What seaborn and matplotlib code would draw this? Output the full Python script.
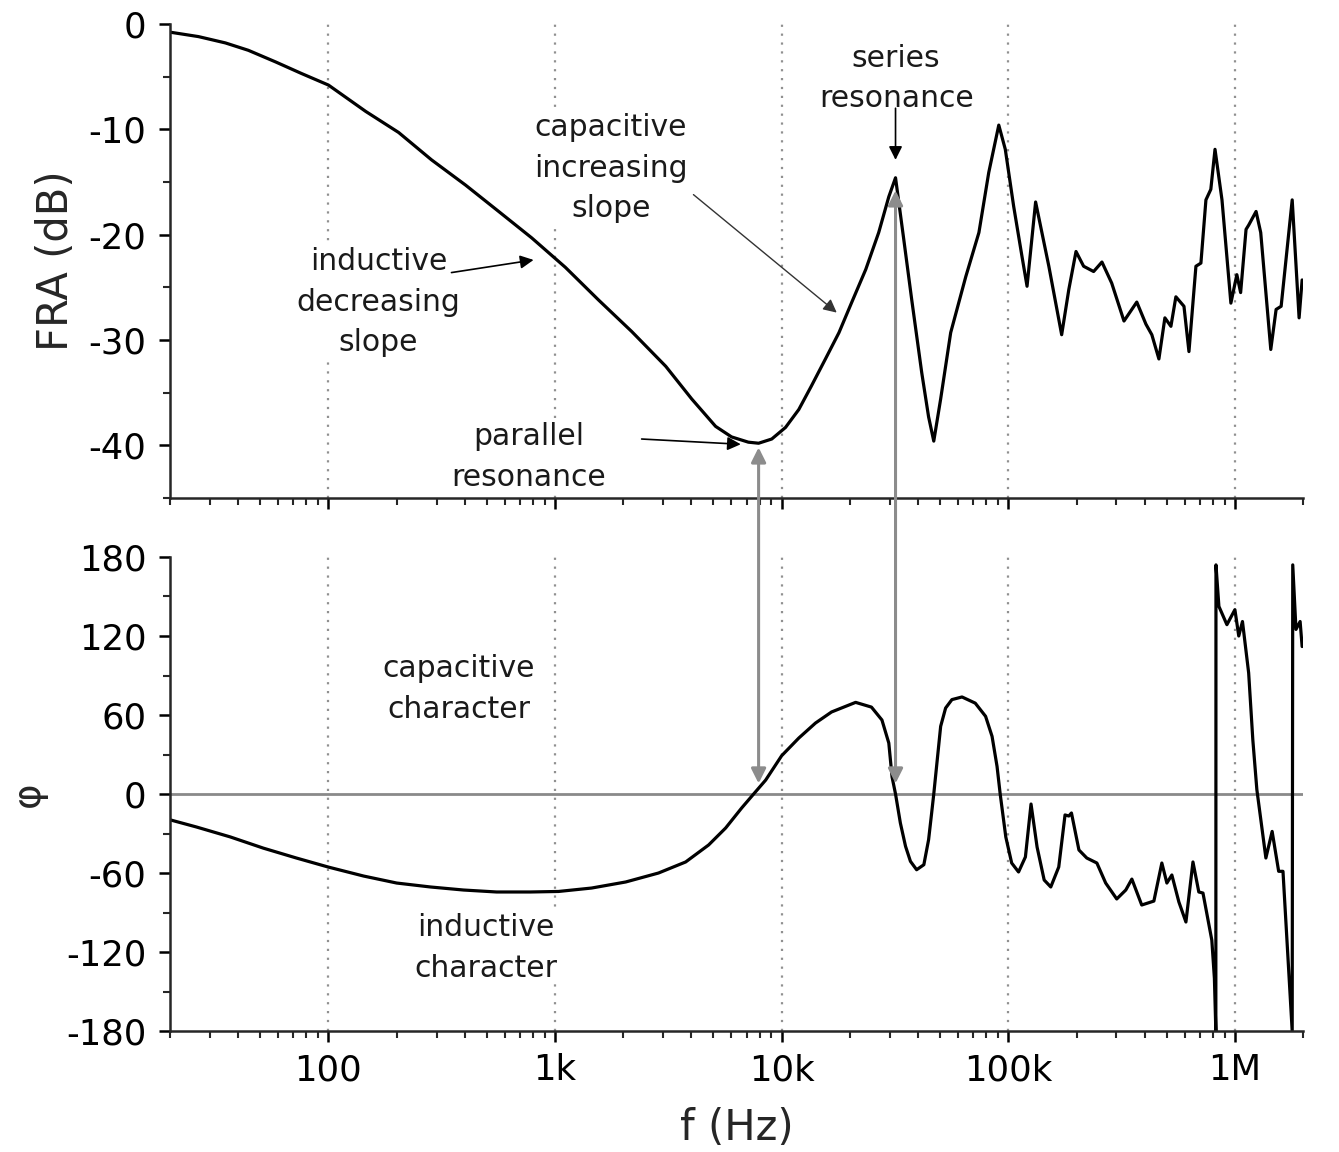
import matplotlib
matplotlib.use('Agg')
import matplotlib.pyplot as plt
import matplotlib.ticker as mticker
from matplotlib.patches import ConnectionPatch
import seaborn as sns

# valores (frequencia em Hz)
fra_freq = [20.3, 26.7, 35.1, 44.3, 58.4, 76, 100, 146, 204, 285, 403, 564, 788, 1110,
            1555, 2180, 3080, 4010, 5110, 6010, 7130, 7910, 9040, 10400, 11900, 13500,
            15600, 17900, 20400, 23500, 26800, 29700, 31800, 34600, 37500, 41500,
            44500, 46900, 50300, 55700, 64900, 74200, 82000, 90800, 97000, 105600,
            115000, 121000, 132000, 151000, 172000, 185000, 199000, 215000,
            238000, 259000, 286000, 324000, 369000, 405000, 430000, 462000, 491000,
            522000, 549000, 596000, 627000, 673000, 708000, 745000, 783000, 817000,
            877000, 960000, 1020000, 1060000, 1120000, 1150000, 1240000, 1300000,
            1440000, 1520000, 1600000, 1790000, 1920000, 1980000]
fra_db = [-0.8, -1.2, -1.8, -2.5, -3.6, -4.7, -5.8, -8.3, -10.3, -12.9, -15.3, -17.8, -20.3, -23.1,
          -26.2, -29.2, -32.5, -35.6, -38.2, -39.2, -39.7, -39.8, -39.4, -38.3, -36.6, -34.4,
          -31.8, -29.3, -26.4, -23.3, -19.8, -16.4, -14.6, -20.5, -26.2, -33.1,
          -37.3, -39.6, -35.6, -29.3, -24.0, -19.8, -14.1, -9.6, -11.9, -17.3,
          -22.1, -24.9, -16.9, -23.0, -29.5, -25.2, -21.6, -23.0,
          -23.5, -22.6, -24.6, -28.2, -26.4, -28.5, -29.5, -31.8, -27.9,
          -28.7, -25.9, -26.8, -31.1, -23.0, -22.7, -16.7, -15.7, -11.9,
          -16.7, -26.5, -23.8, -25.5, -19.5, -19.1, -17.8, -19.8,
          -30.9, -27.1, -26.8, -16.7, -27.9, -24.3]

phase_freq = [20.1, 26.1, 36.9, 51.6, 72.2, 100, 143, 200, 282, 394, 552, 779, 1036,
              1450, 2050, 2860, 3770, 4760, 5660, 6660, 7520, 8500, 10000, 11900,
              14100, 16600, 21200, 24900, 27700, 29700, 30700, 31800, 33400, 35200,
              37000, 39400, 42400, 44500, 45900, 46900, 50300, 52900, 56400, 62500,
              71500, 79400, 84800, 89200, 92100, 97500, 103500, 111000, 119000,
              126000, 134000, 144000, 154000, 167000, 178000, 185000, 190000, 205000,
              222000, 246000, 269000, 301000, 330000, 351000, 388000, 439000, 476000,
              501000, 527000, 566000, 608000, 653000, 693000, 723000, 791000, 812000,
              824000, 825000, 850000, 922000, 1000000, 1040000, 1080000, 1150000,
              1200000, 1250000, 1370000, 1460000, 1560000, 1630000, 1790000, 1800000,
              1860000, 1940000, 1980000]
phase_deg = [-19.7, -25.0, -32.6, -41.1, -48.6, -55.5, -62.3, -67.6, -70.6, -72.9, -74.4, -74.4, -74.0,
             -71.4, -66.8, -60.0, -51.6, -38.7, -25.8, -10.6, 0, 10.6, 29.1, 42.5,
             53.9, 62.3, 69.6, 66.0, 56.2, 38.7, 12.9, 0, -22.0, -39.7,
             -51.1, -57.5, -53.7, -34.7, -14.4, 0, 51.4, 65.3, 71.7, 73.7,
             69.0, 59.0, 43.8, 21.0, 0, -32.6, -52.4, -59.2, -47.8,
             -7.6, -40.3, -65.3, -70.6, -55.4, -15.9, -16.7, -14.4, -42.5,
             -48.6, -52.4, -67.6, -79.7, -72.9, -64.6, -84.3, -81.3, -52.4,
             -67.6, -61.5, -82.0, -97.2, -51.6, -74.4, -75.2, -111.0, -140.0,
             -180, 174, 142.5, 128.6, 140, 120, 131, 92,
             41, 3.3, -48.6, -28.4, -58.7, -58.7, -180, 174,
             125, 131, 112]

xtick_values = [1e2, 1e3, 1e4, 1e5, 1e6]
xtick_labels = ['100', '1k', '10k', '100k', '1M']
fra_ticks = [0, -10, -20, -30, -40]
phase_ticks = [180, 120, 60, 0, -60, -120, -180]

sns.set_style('ticks')
plt.rcParams['font.family'] = ['DejaVu Sans']
plt.rcParams['axes.unicode_minus'] = False

fig = plt.figure(figsize=(13.39, 11.52), dpi=100)
ax1 = fig.add_axes([0.127, 0.5677, 0.8462, 0.4115])
ax2 = fig.add_axes([0.127, 0.1050, 0.8462, 0.4115], sharex=ax1)

sns.lineplot(x=fra_freq, y=fra_db, ax=ax1, color='black', lw=2.3,
             estimator=None, sort=False)
sns.lineplot(x=phase_freq, y=phase_deg, ax=ax2, color='black', lw=2.3,
             estimator=None, sort=False)
ax2.axhline(0, color='#8a8a8a', lw=2, zorder=1)

for ax in (ax1, ax2):
    ax.set_xscale('log')
    ax.set_xlim(20, 2e6)
    ax.spines['top'].set_visible(False)
    ax.spines['right'].set_visible(False)
    ax.spines['left'].set_linewidth(1.8)
    ax.spines['bottom'].set_linewidth(1.8)
    ax.xaxis.set_major_locator(mticker.FixedLocator(xtick_values))
    ax.xaxis.set_minor_locator(mticker.LogLocator(base=10, subs=range(2, 10), numticks=20))
    ax.tick_params(which='major', direction='out', length=8, width=1.8,
                   labelsize=25.5, colors='black')
    ax.tick_params(axis='y', which='major', pad=9)
    ax.tick_params(axis='x', which='major', pad=8)
    ax.tick_params(which='minor', direction='out', length=5, width=1.5)
    ax.grid(axis='x', which='major', linestyle=(0, (1, 3)), linewidth=1.6, color='#909090')
    ax.grid(axis='y', visible=False)
    ax.set_xlabel('')
    ax.set_ylabel('')

ax1.set_ylim(-45, 0)
ax1.set_yticks(fra_ticks)
ax1.set_yticklabels([str(t) for t in fra_ticks])
ax1.yaxis.set_minor_locator(mticker.MultipleLocator(5))
ax1.tick_params(axis='x', labelbottom=False)
ax1.set_ylabel('FRA (dB)', fontsize=30, labelpad=8)

ax2.set_ylim(-180, 180)
ax2.set_yticks(phase_ticks)
ax2.set_yticklabels([str(t) for t in phase_ticks])
ax2.yaxis.set_minor_locator(mticker.MultipleLocator(30))
ax2.set_xticks(xtick_values)
ax2.set_xticklabels(xtick_labels)
ax2.set_ylabel('φ', fontsize=28, labelpad=14)
ax2.set_xlabel('f (Hz)', fontsize=30, labelpad=14)

txt = dict(fontsize=21.5, color='#1a1a1a', ha='center', va='center', linespacing=1.5,
           bbox=dict(facecolor='white', edgecolor='none', pad=1))
ax1.text(32000, -5.2, 'series\nresonance', **txt)
ax1.text(1760, -13.7, 'capacitive\nincreasing\nslope', **txt)
ax1.text(166, -26.4, 'inductive\ndecreasing\nslope', **txt)
ax1.text(764, -41.1, 'parallel\nresonance', **txt)
ax2.text(375, 79.7, 'capacitive\ncharacter', **txt)
ax2.text(493, -117, 'inductive\ncharacter', **txt)

seta = dict(arrowstyle='-|>', color='black', lw=1.2, mutation_scale=20, shrinkA=0, shrinkB=0)
ax1.annotate('', xy=(31800, -12.9), xytext=(31800, -8.0), arrowprops=seta)
ax1.annotate('', xy=(17500, -27.4), xytext=(4080, -16.2),
             arrowprops=dict(seta, color='#333333', lw=1.0))
ax1.annotate('', xy=(804, -22.4), xytext=(349, -23.6), arrowprops=seta)
ax1.annotate('', xy=(6600, -39.9), xytext=(2410, -39.4), arrowprops=seta)

# setas cinzas ligando os dois graficos
for f_res, y_top in [(7910, -40.2), (31800, -15.8)]:
    con = ConnectionPatch(xyA=(f_res, y_top), coordsA=ax1.transData,
                          xyB=(f_res, 8), coordsB=ax2.transData,
                          arrowstyle='<|-|>', color='#8c8c8c', lw=2.2,
                          mutation_scale=22, shrinkA=0, shrinkB=0)
    fig.add_artist(con)

fig.savefig('out.png', dpi=100)
